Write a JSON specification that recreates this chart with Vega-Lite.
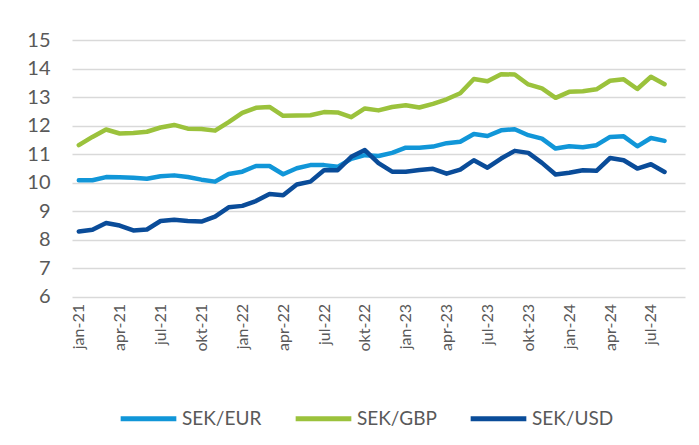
{
  "$schema": "https://vega.github.io/schema/vega-lite/v6.json",
  "width": 613,
  "height": 256.5,
  "autosize": {"type": "none"},
  "padding": {"left": 72, "top": 40, "right": 14, "bottom": 148.5},
  "background": "#ffffff",
  "config": {
    "view": {"stroke": null},
    "font": "Lato"
  },
  "data": {
    "values": [
      {"m": "jan-21", "SEK/EUR": 10.08, "SEK/GBP": 11.31, "SEK/USD": 8.28},
      {"m": "feb-21", "SEK/EUR": 10.08, "SEK/GBP": 11.6, "SEK/USD": 8.34},
      {"m": "mar-21", "SEK/EUR": 10.19, "SEK/GBP": 11.86, "SEK/USD": 8.58},
      {"m": "apr-21", "SEK/EUR": 10.18, "SEK/GBP": 11.72, "SEK/USD": 8.49},
      {"m": "maj-21", "SEK/EUR": 10.17, "SEK/GBP": 11.74, "SEK/USD": 8.32},
      {"m": "jun-21", "SEK/EUR": 10.13, "SEK/GBP": 11.78, "SEK/USD": 8.35},
      {"m": "jul-21", "SEK/EUR": 10.22, "SEK/GBP": 11.93, "SEK/USD": 8.65},
      {"m": "aug-21", "SEK/EUR": 10.25, "SEK/GBP": 12.02, "SEK/USD": 8.69},
      {"m": "sep-21", "SEK/EUR": 10.19, "SEK/GBP": 11.89, "SEK/USD": 8.65},
      {"m": "okt-21", "SEK/EUR": 10.1, "SEK/GBP": 11.88, "SEK/USD": 8.63},
      {"m": "nov-21", "SEK/EUR": 10.03, "SEK/GBP": 11.82, "SEK/USD": 8.8},
      {"m": "dec-21", "SEK/EUR": 10.3, "SEK/GBP": 12.12, "SEK/USD": 9.13},
      {"m": "jan-22", "SEK/EUR": 10.38, "SEK/GBP": 12.44, "SEK/USD": 9.18},
      {"m": "feb-22", "SEK/EUR": 10.58, "SEK/GBP": 12.62, "SEK/USD": 9.35},
      {"m": "mar-22", "SEK/EUR": 10.58, "SEK/GBP": 12.65, "SEK/USD": 9.6},
      {"m": "apr-22", "SEK/EUR": 10.29, "SEK/GBP": 12.34, "SEK/USD": 9.55},
      {"m": "maj-22", "SEK/EUR": 10.5, "SEK/GBP": 12.35, "SEK/USD": 9.93},
      {"m": "jun-22", "SEK/EUR": 10.61, "SEK/GBP": 12.36, "SEK/USD": 10.03},
      {"m": "jul-22", "SEK/EUR": 10.61, "SEK/GBP": 12.47, "SEK/USD": 10.43},
      {"m": "aug-22", "SEK/EUR": 10.55, "SEK/GBP": 12.46, "SEK/USD": 10.43},
      {"m": "sep-22", "SEK/EUR": 10.83, "SEK/GBP": 12.29, "SEK/USD": 10.9},
      {"m": "okt-22", "SEK/EUR": 10.96, "SEK/GBP": 12.6, "SEK/USD": 11.14},
      {"m": "nov-22", "SEK/EUR": 10.93, "SEK/GBP": 12.53, "SEK/USD": 10.68},
      {"m": "dec-22", "SEK/EUR": 11.04, "SEK/GBP": 12.65, "SEK/USD": 10.38},
      {"m": "jan-23", "SEK/EUR": 11.22, "SEK/GBP": 12.71, "SEK/USD": 10.38},
      {"m": "feb-23", "SEK/EUR": 11.22, "SEK/GBP": 12.63, "SEK/USD": 10.44},
      {"m": "mar-23", "SEK/EUR": 11.26, "SEK/GBP": 12.76, "SEK/USD": 10.48},
      {"m": "apr-23", "SEK/EUR": 11.38, "SEK/GBP": 12.92, "SEK/USD": 10.31},
      {"m": "maj-23", "SEK/EUR": 11.43, "SEK/GBP": 13.13, "SEK/USD": 10.45},
      {"m": "jun-23", "SEK/EUR": 11.7, "SEK/GBP": 13.63, "SEK/USD": 10.78},
      {"m": "jul-23", "SEK/EUR": 11.63, "SEK/GBP": 13.55, "SEK/USD": 10.52},
      {"m": "aug-23", "SEK/EUR": 11.83, "SEK/GBP": 13.8, "SEK/USD": 10.84},
      {"m": "sep-23", "SEK/EUR": 11.87, "SEK/GBP": 13.79, "SEK/USD": 11.11},
      {"m": "okt-23", "SEK/EUR": 11.66, "SEK/GBP": 13.44, "SEK/USD": 11.04},
      {"m": "nov-23", "SEK/EUR": 11.54, "SEK/GBP": 13.3, "SEK/USD": 10.69},
      {"m": "dec-23", "SEK/EUR": 11.19, "SEK/GBP": 12.97, "SEK/USD": 10.28},
      {"m": "jan-24", "SEK/EUR": 11.27, "SEK/GBP": 13.18, "SEK/USD": 10.34},
      {"m": "feb-24", "SEK/EUR": 11.24, "SEK/GBP": 13.2, "SEK/USD": 10.43},
      {"m": "mar-24", "SEK/EUR": 11.31, "SEK/GBP": 13.27, "SEK/USD": 10.41},
      {"m": "apr-24", "SEK/EUR": 11.6, "SEK/GBP": 13.57, "SEK/USD": 10.86},
      {"m": "maj-24", "SEK/EUR": 11.62, "SEK/GBP": 13.62, "SEK/USD": 10.78},
      {"m": "jun-24", "SEK/EUR": 11.27, "SEK/GBP": 13.28, "SEK/USD": 10.49},
      {"m": "jul-24", "SEK/EUR": 11.56, "SEK/GBP": 13.71, "SEK/USD": 10.64},
      {"m": "aug-24", "SEK/EUR": 11.46, "SEK/GBP": 13.45, "SEK/USD": 10.37}
    ]
  },
  "transform": [
    {"fold": ["SEK/EUR", "SEK/GBP", "SEK/USD"], "as": ["s", "v"]}
  ],
  "mark": {"type": "line", "strokeWidth": 4.5, "strokeJoin": "round", "strokeCap": "round"},
  "encoding": {
    "x": {
      "field": "m",
      "type": "ordinal",
      "sort": null,
      "scale": {
        "type": "point",
        "padding": 0.5,
        "domain": ["jan-21","feb-21","mar-21","apr-21","maj-21","jun-21","jul-21","aug-21","sep-21","okt-21","nov-21","dec-21","jan-22","feb-22","mar-22","apr-22","maj-22","jun-22","jul-22","aug-22","sep-22","okt-22","nov-22","dec-22","jan-23","feb-23","mar-23","apr-23","maj-23","jun-23","jul-23","aug-23","sep-23","okt-23","nov-23","dec-23","jan-24","feb-24","mar-24","apr-24","maj-24","jun-24","jul-24","aug-24","sep-24"]
      },
      "axis": {
        "title": null,
        "domain": false,
        "ticks": false,
        "grid": false,
        "labelAngle": -90,
        "labelFontSize": 16,
        "labelColor": "#595959",
        "labelPadding": 7,
        "labelFont": "Lato",
        "labelExpr": "indexof(['jan','apr','jul','okt'], slice(datum.value,0,3)) >= 0 ? datum.value : ''"
      }
    },
    "y": {
      "field": "v",
      "type": "quantitative",
      "scale": {"domain": [6, 15], "nice": false, "zero": false},
      "axis": {
        "title": null,
        "values": [6,7,8,9,10,11,12,13,14,15],
        "domain": false,
        "ticks": false,
        "grid": true,
        "gridColor": "#d9d9d9",
        "gridWidth": 1.5,
        "labelFontSize": 20,
        "labelColor": "#595959",
        "labelPadding": 22,
        "labelFont": "Lato"
      }
    },
    "color": {
      "field": "s",
      "type": "nominal",
      "scale": {"domain": ["SEK/EUR", "SEK/GBP", "SEK/USD"], "range": ["#1196d8", "#9bc23c", "#0a4c99"]},
      "legend": {
        "title": null,
        "orient": "none",
        "direction": "horizontal",
        "legendX": 46,
        "legendY": 348,
        "symbolType": "stroke",
        "symbolSize": 3100,
        "symbolStrokeWidth": 5,
        "labelFontSize": 19,
        "labelColor": "#595959",
        "labelFont": "Lato",
        "labelOffset": 3,
        "columnPadding": 23,
        "labelLimit": 200
      }
    }
  }
}
